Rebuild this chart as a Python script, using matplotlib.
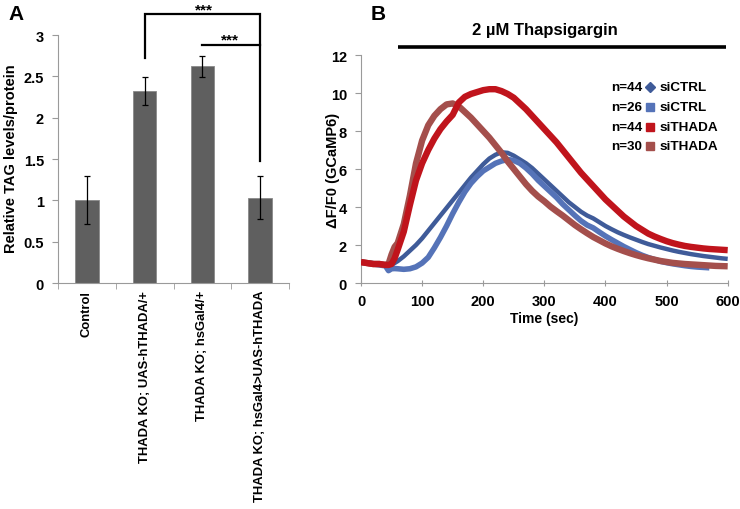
import numpy as np
import matplotlib
matplotlib.use("Agg")
import matplotlib.pyplot as plt
from matplotlib.lines import Line2D

plt.rcParams['font.family'] = ['Liberation Sans', 'DejaVu Sans']
plt.rcParams['font.weight'] = 'bold'

# ---------------- Panel A data ----------------
categories = ["Control", "THADA KO; UAS-hTHADA/+", "THADA KO; hsGal4/+",
              "THADA KO; hsGal4>UAS-hTHADA"]
tag_values = [1.00, 2.32, 2.62, 1.03]
tag_errors = [0.29, 0.17, 0.13, 0.26]
a_yticks = [0, 0.5, 1, 1.5, 2, 2.5, 3]
a_yticklabels = ["0", "0.5", "1", "1.5", "2", "2.5", "3"]
sig_label = "***"

# ---------------- Panel B data ----------------
time_s = [0, 10, 20, 30, 40, 45, 50, 55, 60, 70, 80, 90, 100, 110, 120, 130, 140, 150,
          160, 170, 180, 190, 200, 210, 220, 230, 240, 250, 260, 270, 280, 290, 300,
          310, 320, 330, 340, 350, 360, 370, 380, 390, 400, 410, 420, 430, 440, 450,
          460, 470, 480, 490, 500, 510, 520, 530, 540, 550, 560, 570, 580, 590, 600]

sictrl_44 = [1.10, 1.08, 1.05, 1.00, 0.95, 0.85, 0.95, 1.05, 1.15, 1.40, 1.70, 2.00, 2.35,
             2.75, 3.15, 3.55, 3.95, 4.35, 4.75, 5.15, 5.55, 5.90, 6.25, 6.55, 6.75, 6.88,
             6.85, 6.70, 6.50, 6.30, 6.05, 5.75, 5.45, 5.15, 4.85, 4.55, 4.25, 4.00, 3.75,
             3.55, 3.40, 3.20, 3.00, 2.83, 2.67, 2.53, 2.40, 2.28, 2.16, 2.05, 1.96, 1.87,
             1.79, 1.71, 1.64, 1.58, 1.52, 1.47, 1.42, 1.38, 1.34, 1.30, 1.27]

time_s_26 = time_s[:60]
sictrl_26 = [1.10, 1.05, 1.00, 0.95, 0.90, 0.65, 0.75, 0.76, 0.75, 0.72, 0.75, 0.85, 1.05,
             1.35, 1.85, 2.40, 3.00, 3.65, 4.25, 4.80, 5.25, 5.60, 5.90, 6.10, 6.30, 6.42,
             6.50, 6.45, 6.30, 6.05, 5.75, 5.40, 5.10, 4.80, 4.50, 4.15, 3.85, 3.55, 3.27,
             3.05, 2.90, 2.68, 2.47, 2.28, 2.10, 1.92, 1.76, 1.60, 1.46, 1.34, 1.24, 1.14,
             1.07, 1.01, 0.96, 0.91, 0.87, 0.84, 0.82, 0.80]

sithada_44 = [1.10, 1.05, 1.00, 1.00, 0.95, 0.95, 1.00, 1.30, 1.75, 2.70, 4.10, 5.40, 6.30,
              7.00, 7.60, 8.10, 8.50, 8.85, 9.50, 9.80, 9.95, 10.05, 10.15, 10.20, 10.20,
              10.10, 9.95, 9.75, 9.45, 9.15, 8.80, 8.45, 8.10, 7.75, 7.40, 7.00, 6.60, 6.20,
              5.80, 5.45, 5.10, 4.75, 4.40, 4.10, 3.80, 3.50, 3.25, 3.00, 2.80, 2.60, 2.45,
              2.32, 2.20, 2.10, 2.02, 1.95, 1.90, 1.86, 1.82, 1.79, 1.77, 1.75, 1.73]

sithada_30 = [1.10, 1.05, 1.00, 1.00, 0.95, 1.00, 1.50, 1.90, 2.10, 3.10, 4.60, 6.30, 7.50,
              8.30, 8.80, 9.15, 9.40, 9.45, 9.30, 9.00, 8.70, 8.35, 8.00, 7.65, 7.25, 6.85,
              6.40, 6.00, 5.60, 5.20, 4.85, 4.55, 4.30, 4.02, 3.78, 3.55, 3.30, 3.05, 2.83,
              2.62, 2.42, 2.25, 2.08, 1.93, 1.80, 1.68, 1.57, 1.47, 1.38, 1.30, 1.23, 1.16,
              1.11, 1.06, 1.03, 1.00, 0.98, 0.96, 0.94, 0.92, 0.90, 0.89, 0.88]

b_xticks = [0, 100, 200, 300, 400, 500, 600]
b_yticks = [0, 2, 4, 6, 8, 10, 12]
treatment_label = "2 \u00b5M Thapsigargin"
treatment_start, treatment_end = 60, 598
legend_n = [44, 26, 44, 30]
legend_names = ["siCTRL", "siCTRL", "siTHADA", "siTHADA"]

W, H = 740, 510
fig = plt.figure(figsize=(W / 100, H / 100), dpi=100)

def fx(x):
    return x / W

def fy(y):
    return 1 - y / H

axis_gray = "#9a9a9a"
tick_fs = 10.5

# ---------------- Panel A ----------------
A_left, A_right, A_bot, A_top = 58, 289, 284, 36
axA = fig.add_axes([fx(A_left), fy(A_bot), (A_right - A_left) / W, (A_bot - A_top) / H])
xpos = np.arange(len(categories))
axA.bar(xpos, tag_values, width=0.41, color="#5f5f5f", edgecolor="#8a8a8a",
        linewidth=0.6, zorder=2)
axA.errorbar(xpos, tag_values, yerr=tag_errors, fmt="none", ecolor="black",
             elinewidth=0.9, capsize=2.5, capthick=0.9, zorder=3)
axA.set_xlim(-0.5, 3.5)
axA.set_ylim(0, 3)
axA.set_yticks(a_yticks)
axA.set_yticklabels(a_yticklabels, fontsize=tick_fs, fontweight="bold")
axA.set_xticks(xpos)
axA.set_xticklabels(categories, rotation=90, fontsize=9.4, fontweight="bold",
                    ha="center", va="top")
axA.set_xticks(np.arange(-0.5, 4.0, 1.0), minor=True)
axA.tick_params(axis="x", which="major", length=0, pad=5)
axA.tick_params(axis="x", which="minor", length=4, color=axis_gray, direction="out")
axA.tick_params(axis="y", length=4, color=axis_gray, direction="out", pad=6)
for s in ["top", "right"]:
    axA.spines[s].set_visible(False)
for s in ["left", "bottom"]:
    axA.spines[s].set_color(axis_gray)
axA.set_ylabel("Relative TAG levels/protein", fontsize=10.5, fontweight="bold")
axA.yaxis.set_label_coords((18 - A_left) / (A_right - A_left), 0.505)

# significance brackets
axA.plot([1, 1, 3, 3], [2.72, 3.25, 3.25, 1.475], color="black", lw=1.6,
         clip_on=False, solid_joinstyle="miter", zorder=4)
axA.plot([2, 3], [2.88, 2.88], color="black", lw=1.6, clip_on=False, zorder=4)
axA.text(2.03, 3.265, sig_label, ha="center", va="baseline", fontsize=11,
         fontweight="bold")
axA.text(2.48, 2.895, sig_label, ha="center", va="baseline", fontsize=11,
         fontweight="bold")

fig.text(fx(8), fy(14), "A", fontsize=15, fontweight="bold", va="center", ha="left")
fig.text(fx(371), fy(14), "B", fontsize=15, fontweight="bold", va="center", ha="left")

# ---------------- Panel B ----------------
B_left, B_right = 361, 727.7
axB = fig.add_axes([fx(B_left), fy(284), (B_right - B_left) / W, (284 - 56) / H])
c_dblue = "#3f5b99"
c_lblue = "#5573b8"
c_red = "#c0141c"
c_brown = "#a44f4c"
axB.plot(time_s, sictrl_44, color=c_dblue, lw=3.2, zorder=2, solid_capstyle="butt")
axB.plot(time_s_26, sictrl_26, color=c_lblue, lw=4.0, zorder=2, solid_capstyle="butt")
axB.plot(time_s, sithada_30, color=c_brown, lw=4.6, zorder=3, solid_capstyle="butt")
axB.plot(time_s, sithada_44, color=c_red, lw=4.6, zorder=4, solid_capstyle="butt")
axB.set_xlim(0, 600)
axB.set_ylim(0, 12)
axB.set_xticks(b_xticks)
axB.set_yticks(b_yticks)
axB.set_xticklabels([str(v) for v in b_xticks], fontsize=tick_fs, fontweight="bold")
axB.set_yticklabels([str(v) for v in b_yticks], fontsize=tick_fs, fontweight="bold")
axB.tick_params(axis="x", length=4, color=axis_gray, direction="inout", pad=6)
axB.tick_params(axis="y", length=4, color=axis_gray, direction="out", pad=6)
for s in ["top", "right"]:
    axB.spines[s].set_visible(False)
for s in ["left", "bottom"]:
    axB.spines[s].set_color(axis_gray)
axB.set_xlabel("Time (sec)", fontsize=10, fontweight="bold", labelpad=2)
axB.set_ylabel("\u0394F/F0 (GCaMP6)", fontsize=10.5, fontweight="bold")
axB.yaxis.set_label_coords((340 - B_left) / (B_right - B_left), 0.5)

# treatment bar
axB.plot([treatment_start, treatment_end], [12.42, 12.42], color="black", lw=2.6,
         clip_on=False, solid_capstyle="butt")
axB.text((treatment_start + treatment_end) / 2 - 28, 13.35, treatment_label,
         ha="center", va="center", fontsize=12, fontweight="bold")

# legend (manual)
leg_colors = [c_dblue, c_lblue, c_red, c_brown]
leg_markers = ["D", "s", "s", "s"]
leg_sizes = [4.8, 5.5, 5.5, 5.5]
rows_y = [88, 108, 128, 147]
for n, name, col, mk, ms, yy in zip(legend_n, legend_names, leg_colors, leg_markers,
                                   leg_sizes, rows_y):
    fig.text(fx(611), fy(yy), f"n={n}", fontsize=9.7, fontweight="bold",
             ha="left", va="center")
    fig.add_artist(Line2D([fx(650)], [fy(yy)], marker=mk, markersize=ms,
                          color=col, linestyle="none"))
    fig.text(fx(660), fy(yy), name, fontsize=9.7, fontweight="bold",
             ha="left", va="center")

fig.savefig("out.png", dpi=100)
